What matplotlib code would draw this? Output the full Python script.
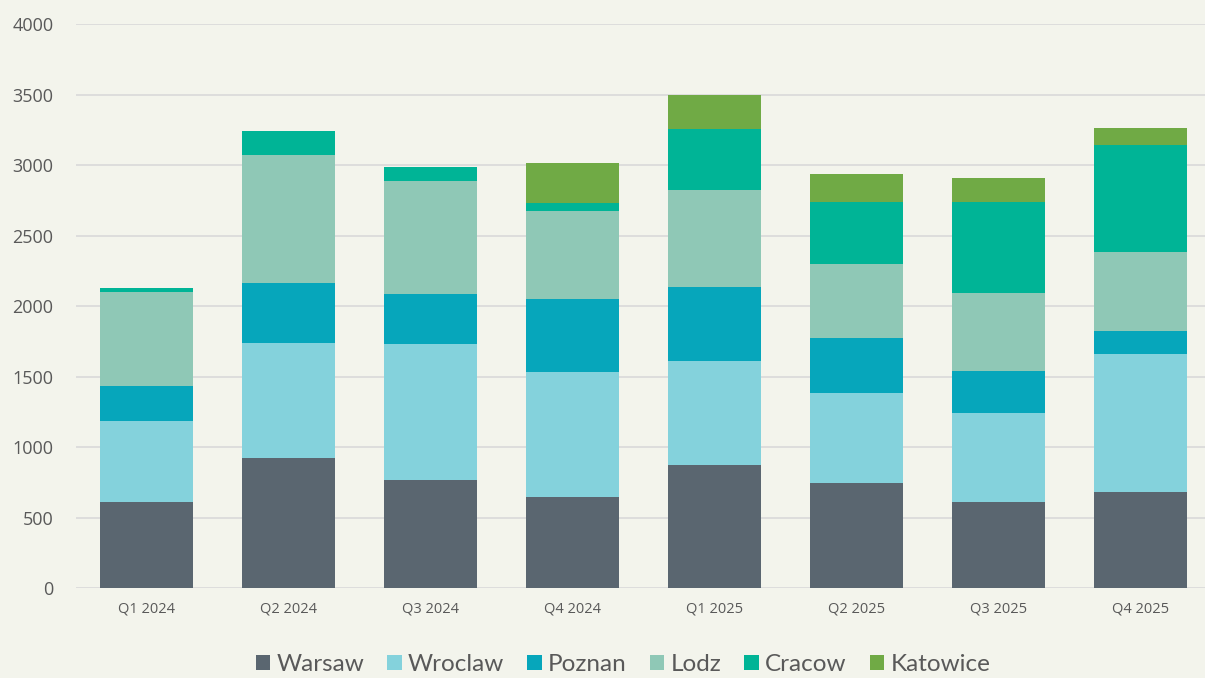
import matplotlib.pyplot as plt
import numpy as np

quarters = ["Q1 2024", "Q2 2024", "Q3 2024", "Q4 2024", "Q1 2025", "Q2 2025", "Q3 2025", "Q4 2025"]
cities = ["Warsaw", "Wroclaw", "Poznan", "Lodz", "Cracow", "Katowice"]

warsaw = [610, 922, 766, 645, 872, 745, 610, 681]
wroclaw = [574, 816, 964, 887, 738, 638, 631, 979]
poznan = [249, 425, 355, 518, 525, 390, 298, 163]
lodz = [666, 908, 802, 624, 688, 525, 553, 560]
cracow = [29, 170, 99, 56, 432, 440, 646, 759]
katowice = [0, 0, 0, 284, 241, 198, 170, 120]

colors = ["#5a6670", "#84d2dc", "#06a6bb", "#8fc8b6", "#00b496", "#70aa45"]
bg = "#f3f4ec"

series = [warsaw, wroclaw, poznan, lodz, cracow, katowice]

fig = plt.figure(figsize=(12.05, 6.78), dpi=100, facecolor=bg)
ax = fig.add_axes([0.0627, 0.1327, 0.943, 0.8319], facecolor=bg)

x = np.arange(len(quarters))
bottom = np.zeros(len(quarters))
for name, vals, c in zip(cities, series, colors):
    ax.bar(x, vals, 0.655, bottom=bottom, color=c, label=name, zorder=3)
    bottom += np.array(vals)

ax.set_xlim(-0.5, 7.5)
ax.set_ylim(0, 4000)
ax.set_yticks(range(0, 4001, 500))
ax.set_xticks(x)
ax.set_xticklabels(quarters, fontsize=10.5, family="Open Sans", color="#595959")
for lbl in ax.get_yticklabels():
    lbl.set_family("Open Sans")
    lbl.set_fontsize(13)
    lbl.set_color("#595959")
ax.grid(axis="y", color="#d9d9d9", linewidth=1.2, zorder=0)
for s in ax.spines.values():
    s.set_visible(False)
ax.tick_params(axis="both", length=0)
ax.tick_params(axis="y", pad=16)
ax.tick_params(axis="x", pad=10)

leg = fig.legend(loc="center", bbox_to_anchor=(0.517, 0.02), ncol=6, frameon=False,
                 prop={"family": "Lato", "size": 17.5}, handlelength=0.6, handleheight=0.6,
                 handletextpad=0.25, columnspacing=0.95)
for t in leg.get_texts():
    t.set_color("#595959")

fig.savefig("out.png", dpi=100, facecolor=bg)
